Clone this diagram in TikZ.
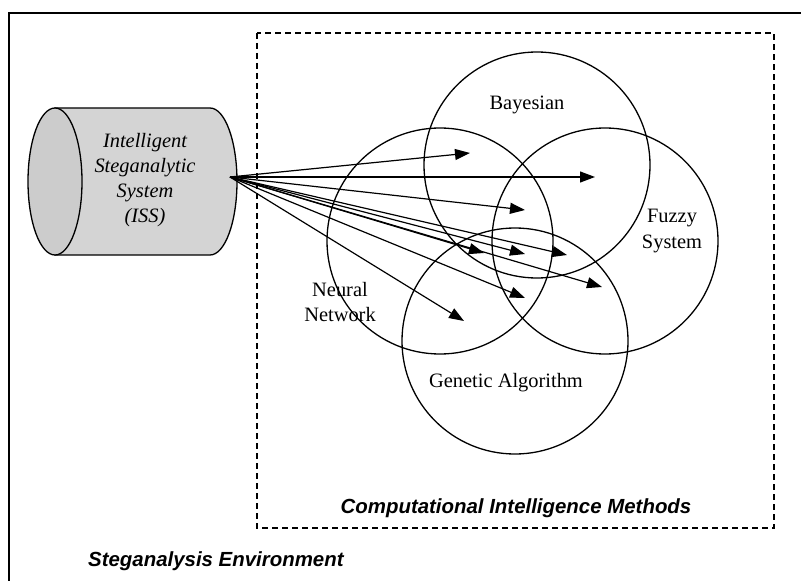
\documentclass[tikz,border=0pt]{standalone}
\usepackage{fontspec}
\setmainfont{Liberation Serif}
\setsansfont{Liberation Sans}
\usetikzlibrary{arrows.meta}
\begin{document}
\begin{tikzpicture}[x=1bp,y=-1bp,
  method/.style={circle, draw, line width=1.3bp, minimum size=226bp, inner sep=0pt},
  lbl/.style={font=\fontsize{20.5}{26}\selectfont, align=center, inner sep=0pt},
  title/.style={font=\sffamily\bfseries\itshape\fontsize{20.5}{25}\selectfont, inner sep=0pt},
  link/.style={line width=1.2bp, -{Triangle[length=15bp,width=11bp]}}]
\useasboundingbox (0,0) rectangle (801,581);
% outer frame (environment)
\draw[line width=2bp] (9,581) -- (9,13) -- (801,13);
% dashed box
\draw[line width=1.4bp, dash pattern=on 6bp off 4bp] (257,33) rectangle (774,528);
% cylinder
\draw[line width=1.3bp, fill=black!17] (55,108) -- (210,108) arc[start angle=-90, end angle=90, x radius=27, y radius=73.5] -- (55,255) -- cycle;
\draw[line width=1.3bp, fill=black!20] (55,181.5) ellipse[x radius=27, y radius=73.5];
\node[lbl, font=\itshape\fontsize{20.5}{25.3}\selectfont] (iss) at (145,180) {Intelligent\\Steganalytic\\System\\(ISS)};
\coordinate (src) at (230,177);
% methods
\node[method] (bay) at (537,165) {};
\node[method] (neu) at (440,241) {};
\node[method] (fuz) at (605,241) {};
\node[method] (gen) at (515,341) {};
\node[lbl] (bayl) at (527,105) {Bayesian};
\node[lbl] (fuzl) at (672,231) {Fuzzy\\System};
\node[lbl] (neul) at (340,302) {Neural\\Network};
\node[lbl] (genl) at (506,383) {Genetic Algorithm};
% arrow targets
\coordinate (t1) at (470,153);
\coordinate (t2) at (595,177);
\coordinate (t3) at (525,210);
\coordinate (t4) at (484,253);
\coordinate (t5) at (525,254);
\coordinate (t6) at (567,255);
\coordinate (t7) at (602,287);
\coordinate (t8) at (525,298);
\coordinate (t9) at (464,321);
\foreach \t in {t1,t2,t3,t4,t5,t6,t7,t8,t9} \draw[link] (src) -- (\t);
% titles
\node[title] (cim) at (516,508) {Computational Intelligence Methods};
\node[title, anchor=west] (env) at (88,561) {Steganalysis Environment};
\end{tikzpicture}
\end{document}
